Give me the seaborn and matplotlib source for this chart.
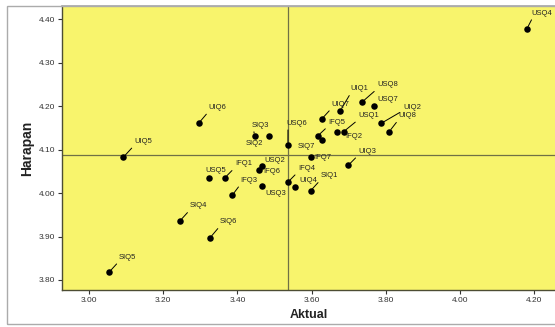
import matplotlib.pyplot as plt
import seaborn as sns
import pandas as pd
from matplotlib.patches import Rectangle

# values
labels = ["USQ4", "UIQ1", "USQ8", "USQ7", "UIQ7", "USQ1", "IFQ2", "UIQ2", "UIQ8",
          "IFQ5", "SIQ7", "UIQ6", "SIQ3", "SIQ2", "USQ6", "UIQ5", "USQ5", "IFQ1",
          "USQ2", "IFQ6", "IFQ3", "USQ3", "SIQ4", "SIQ6", "SIQ5", "IFQ4", "UIQ4",
          "SIQ1", "IFQ7", "UIQ3"]
aktual = [4.18, 3.677, 3.737, 3.768, 3.627, 3.686, 3.668, 3.787, 3.809,
          3.616, 3.627, 3.295, 3.446, 3.486, 3.536, 3.092, 3.324, 3.366,
          3.466, 3.459, 3.386, 3.466, 3.245, 3.326, 3.054, 3.536, 3.556,
          3.597, 3.597, 3.699]
harapan = [4.377, 4.189, 4.210, 4.200, 4.170, 4.141, 4.141, 4.160, 4.141,
           4.131, 4.122, 4.160, 4.131, 4.131, 4.110, 4.082, 4.035, 4.035,
           4.062, 4.054, 3.995, 4.016, 3.936, 3.897, 3.818, 4.025, 4.014,
           4.005, 4.082, 4.064]
mean_aktual = 3.536
mean_harapan = 4.087
x_ticks = [3.00, 3.20, 3.40, 3.60, 3.80, 4.00, 4.20]
y_ticks = [3.80, 3.90, 4.00, 4.10, 4.20, 4.30, 4.40]

# label offsets in pixels (dx right, dy up) from each point
label_offsets = {
    "USQ4": (5, 16), "UIQ1": (10, 22), "USQ8": (15, 17), "USQ7": (3, 7),
    "UIQ7": (10, 15), "USQ1": (15, 16), "IFQ2": (8, -5), "UIQ2": (22, 16),
    "UIQ8": (9, 16), "IFQ5": (11, 14), "SIQ7": (-24, -7), "UIQ6": (10, 16),
    "SIQ3": (-3, 11), "SIQ2": (-24, -7), "USQ6": (-2, 22), "UIQ5": (11, 16),
    "USQ5": (-4, 7), "IFQ1": (10, 14), "USQ2": (2, 6), "IFQ6": (4, -2),
    "IFQ3": (8, 15), "USQ3": (3, -7), "SIQ4": (10, 15), "SIQ6": (10, 16),
    "SIQ5": (10, 15), "IFQ4": (10, 14), "UIQ4": (4, 6), "SIQ1": (10, 15),
    "IFQ7": (4, 0), "UIQ3": (10, 14),
}

df = pd.DataFrame({"Label": labels, "Aktual": aktual, "Harapan": harapan})

sns.set_theme(style="ticks")
plt.rcParams["font.family"] = ["Liberation Sans", "DejaVu Sans"]

W, H = 555, 327
fig = plt.figure(figsize=(W / 100, H / 100), dpi=100)
fig.patch.set_facecolor("white")
ax = fig.add_axes([62 / W, 1 - 290 / H, (W - 62) / W, (290 - 6) / H])
ax.set_facecolor("#F8F46C")

# outer chart frame
fig.patches.append(Rectangle((7 / W, 3 / H), 1.0, (1 - 6 / H) - 3 / H,
                             transform=fig.transFigure, figure=fig,
                             fill=False, edgecolor="#ABABAB", lw=1))

ax.axvline(mean_aktual, color="#707045", lw=0.9, zorder=1)
ax.axhline(mean_harapan, color="#707045", lw=0.9, zorder=1)

sns.scatterplot(data=df, x="Aktual", y="Harapan", color="black", s=22,
                linewidth=0, ax=ax, zorder=3)

for lab, xv, yv in zip(labels, aktual, harapan):
    dx, dy = label_offsets[lab]
    props = None
    if abs(dy) >= 10:
        props = dict(arrowstyle="-", color="black", lw=0.7,
                     shrinkA=0, shrinkB=2, relpos=(0.1, 0.2))
    ax.annotate(lab, (xv, yv), xytext=(dx, dy), textcoords="offset pixels",
                ha="left", va="center", fontsize=5.5, color="#222222",
                arrowprops=props, annotation_clip=False, zorder=4)

ax.set_xlim(2.927, 4.256)
ax.set_ylim(3.777, 4.43)
ax.set_xticks(x_ticks)
ax.set_yticks(y_ticks)
ax.set_xticklabels([f"{v:.2f}" for v in x_ticks])
ax.set_yticklabels([f"{v:.2f}" for v in y_ticks])
ax.tick_params(axis="both", labelsize=6, length=3, width=0.8, pad=2,
               colors="#333333")

ax.set_xlabel("Aktual", fontsize=9, fontweight="bold", labelpad=4, color="#222222")
ax.set_ylabel("Harapan", fontsize=10, fontweight="bold", labelpad=3, color="#222222")

for side in ["left", "bottom"]:
    ax.spines[side].set_color("#4d4d33")
    ax.spines[side].set_linewidth(1.0)
ax.spines["top"].set_color("#ABABAB")
ax.spines["right"].set_visible(False)

fig.savefig("out.png", dpi=100)
plt.close(fig)
